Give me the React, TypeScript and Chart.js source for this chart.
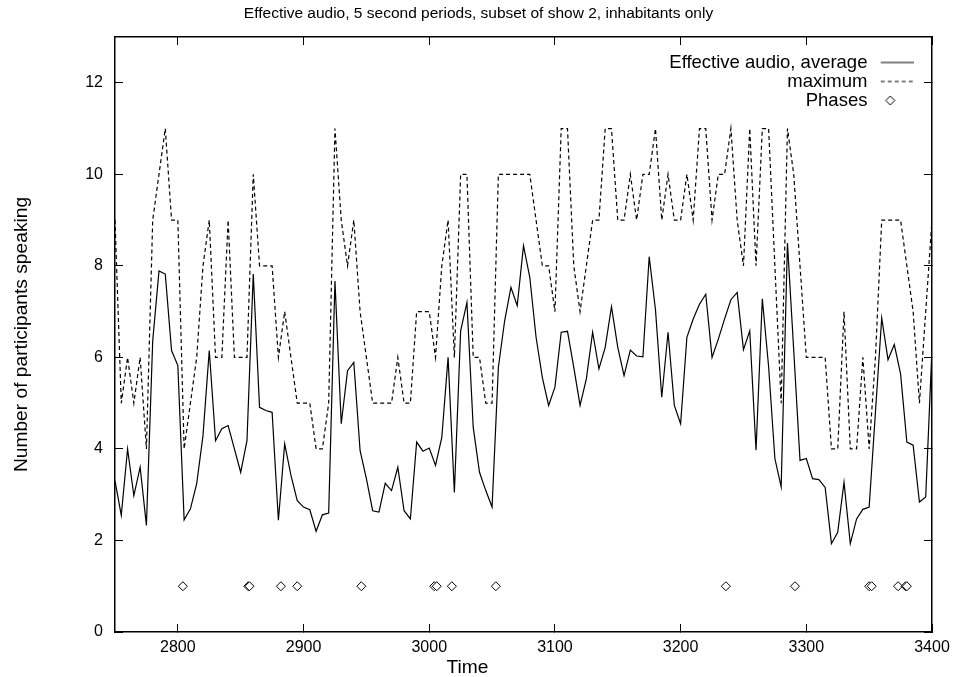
import React, { useEffect, useRef } from 'react';
import { Chart, registerables } from 'chart.js';

Chart.register(...registerables);

const FONT = "'Liberation Sans', Arial, Helvetica, sans-serif";

const TITLE = 'Effective audio, 5 second periods, subset of show 2, inhabitants only';
const X_TITLE = 'Time';
const Y_TITLE = 'Number of participants speaking';
const SERIES_NAMES = ['Effective audio, average', 'maximum', 'Phases'];

// 5 second periods starting at t = 2750
const START_TIME = 2750;
const PERIOD = 5;

const averageValues = [
  3.3, 2.55, 4.0, 2.98, 3.6, 2.33, 6.36, 7.89, 7.82, 6.15,
  5.82, 2.45, 2.69, 3.24, 4.29, 6.15, 4.18, 4.44, 4.51, 4.0,
  3.49, 4.18, 7.82, 4.91, 4.84, 4.8, 2.44, 4.11, 3.42, 2.87,
  2.73, 2.67, 2.2, 2.56, 2.6, 7.67, 4.55, 5.71, 5.89, 3.96,
  3.35, 2.65, 2.62, 3.25, 3.09, 3.6, 2.65, 2.47, 4.15, 3.95,
  4.02, 3.64, 4.25, 6.0, 3.05, 6.58, 7.2, 4.47, 3.49, 3.09,
  2.73, 5.78, 6.8, 7.53, 7.13, 8.44, 7.75, 6.44, 5.56, 4.95,
  5.35, 6.55, 6.57, 5.78, 4.95, 5.53, 6.55, 5.75, 6.22, 7.11,
  6.22, 5.6, 6.16, 6.03, 6.01, 8.2, 7.04, 5.13, 6.55, 4.95,
  4.55, 6.44, 6.84, 7.16, 7.38, 6.0, 6.4, 6.84, 7.26, 7.42,
  6.17, 6.58, 3.97, 7.28, 5.8, 3.79, 3.17, 8.5, 6.15, 3.75,
  3.79, 3.35, 3.33, 3.16, 1.93, 2.18, 3.27, 1.93, 2.47, 2.68,
  2.73, 4.8, 6.86, 5.95, 6.28, 5.64, 4.15, 4.08, 2.84, 2.95,
  6.2,
];

const maximumValues = [
  9, 5, 6, 5, 6, 4, 9, 10, 11, 9,
  9, 4, 5, 6, 8, 9, 6, 6, 9, 6,
  6, 6, 10, 8, 8, 8, 6, 7, 6, 5,
  5, 5, 4, 4, 5, 11, 9, 8, 9, 7,
  6, 5, 5, 5, 5, 6, 5, 5, 7, 7,
  7, 6, 8, 9, 6, 10, 10, 6, 6, 5,
  5, 10, 10, 10, 10, 10, 10, 9, 8, 8,
  7, 11, 11, 8, 7, 8, 9, 9, 11, 11,
  9, 9, 10, 9, 10, 10, 11, 9, 10, 9,
  9, 10, 9, 11, 11, 9, 10, 10, 11, 9,
  8, 11, 8, 11, 11, 8, 5, 11, 10, 8,
  6, 6, 6, 6, 4, 4, 7, 4, 4, 6,
  4, 6, 9, 9, 9, 9, 8, 7, 5, 7,
  9,
];

const phaseTimes = [
  2804, 2856, 2857, 2882, 2895, 2946, 3004, 3006, 3018, 3053,
  3236, 3291, 3350, 3352, 3373, 3379, 3380,
];
const PHASE_LEVEL = 1;

const xTickValues = [2800, 2900, 3000, 3100, 3200, 3300, 3400];
const yTickValues = [0, 2, 4, 6, 8, 10, 12];
const X_MIN = 2750;
const X_MAX = 3400;
const Y_MIN = 0;
const Y_MAX = 13;

const X_TITLE_SHIFT = -56;
const LEGEND_SAMPLE_W = 37;
const DASH = [4, 3];

const legendPlacer = {
  id: 'legendPlacer',
  afterLayout(chart: any) {
    const lg = chart.legend;
    const ca = chart.chartArea;
    if (lg) {
      const w = lg.width;
      const h = lg.height;
      lg.right = ca.right - 17.8;
      lg.left = lg.right - w;
      lg.top = ca.top + 15.7;
      lg.bottom = lg.top + h;
    }
    const xs = chart.scales.x;
    if (xs && !xs.__titleShifted) {
      const orig = xs.drawTitle.bind(xs);
      xs.drawTitle = function () {
        const ctx = this.ctx;
        ctx.save();
        ctx.translate(X_TITLE_SHIFT, 0);
        orig();
        ctx.restore();
      };
      xs.__titleShifted = true;
    }
  },
};

// legend samples: gap on the left, sample on the right (as in the original key)
function makeLineSample(dash: number[]): HTMLCanvasElement {
  const c = document.createElement('canvas');
  c.width = LEGEND_SAMPLE_W;
  c.height = 4;
  const g = c.getContext('2d')!;
  g.strokeStyle = '#000';
  g.lineWidth = 1.2;
  g.setLineDash(dash);
  g.beginPath();
  g.moveTo(4, 2);
  g.lineTo(LEGEND_SAMPLE_W, 2);
  g.stroke();
  return c;
}

function makeDiamondSample(): HTMLCanvasElement {
  const c = document.createElement('canvas');
  c.width = LEGEND_SAMPLE_W;
  c.height = 11;
  const g = c.getContext('2d')!;
  const cx = 13.5;
  g.beginPath();
  g.moveTo(cx, 1);
  g.lineTo(cx + 4.5, 5.5);
  g.lineTo(cx, 10);
  g.lineTo(cx - 4.5, 5.5);
  g.closePath();
  g.fillStyle = '#fff';
  g.fill();
  g.strokeStyle = '#000';
  g.lineWidth = 1;
  g.stroke();
  return c;
}

const zeroPad = (s: any) => {
  s.paddingLeft = 0;
  s.paddingRight = 0;
  s.paddingTop = 0;
  s.paddingBottom = 0;
};

export default function App() {
  const canvasRef = useRef<HTMLCanvasElement | null>(null);

  useEffect(() => {
    if (!canvasRef.current) return;
    const solidSample = makeLineSample([]);
    const dashedSample = makeLineSample(DASH);
    const diamondSample = makeDiamondSample();

    const avgData = averageValues.map((v, i) => ({ x: START_TIME + i * PERIOD, y: v }));
    const maxData = maximumValues.map((v, i) => ({ x: START_TIME + i * PERIOD, y: v }));
    const phaseData = phaseTimes.map((t) => ({ x: t, y: PHASE_LEVEL }));

    const gridOpts = {
      drawOnChartArea: false,
      drawTicks: true,
      tickLength: -8,
      color: '#000',
      lineWidth: 1,
    };
    const borderOpts = { display: true, color: '#000', width: 1.5 };
    const tickFont = { family: FONT, size: 16 };
    const axisTitleFont = { family: FONT, size: 19.2, lineHeight: 1 };

    const chart = new Chart(canvasRef.current, {
      type: 'line',
      data: {
        datasets: [
          {
            label: SERIES_NAMES[0],
            data: avgData,
            borderColor: '#000',
            backgroundColor: '#000',
            borderWidth: 1.2,
            pointRadius: 0,
            pointHitRadius: 0,
            pointStyle: 'line',
            tension: 0,
            fill: false,
            xAxisID: 'x',
            yAxisID: 'y',
          },
          {
            label: SERIES_NAMES[1],
            data: maxData,
            borderColor: '#000',
            backgroundColor: '#000',
            borderWidth: 1.2,
            borderDash: DASH,
            pointRadius: 0,
            pointHitRadius: 0,
            pointStyle: 'line',
            tension: 0,
            fill: false,
            xAxisID: 'x',
            yAxisID: 'y',
          },
          {
            label: SERIES_NAMES[2],
            data: phaseData,
            showLine: false,
            borderColor: '#000',
            backgroundColor: '#fff',
            pointStyle: 'rectRot',
            pointRadius: 4.5,
            pointBorderWidth: 1,
            pointBackgroundColor: '#fff',
            pointBorderColor: '#000',
            xAxisID: 'x',
            yAxisID: 'y',
          },
        ],
      },
      options: {
        responsive: false,
        animation: false,
        devicePixelRatio: 1,
        events: [],
        layout: { padding: 0 },
        scales: {
          x: {
            type: 'linear',
            position: 'bottom',
            min: X_MIN,
            max: X_MAX,
            afterBuildTicks: (s: any) => {
              s.ticks = xTickValues.map((v) => ({ value: v }));
            },
            afterFit: (s: any) => {
              s.height = 45;
              zeroPad(s);
            },
            ticks: {
              color: '#000',
              font: tickFont,
              padding: 14,
              maxRotation: 0,
              autoSkip: false,
              callback: (v: any) => String(v),
            },
            grid: gridOpts,
            border: borderOpts,
            title: {
              display: true,
              text: X_TITLE,
              color: '#000',
              font: axisTitleFont,
              padding: { top: 0, bottom: 0 },
            },
          },
          y: {
            type: 'linear',
            position: 'left',
            min: Y_MIN,
            max: Y_MAX,
            afterBuildTicks: (s: any) => {
              s.ticks = yTickValues.map((v) => ({ value: v }));
            },
            afterFit: (s: any) => {
              s.width = 115;
              zeroPad(s);
            },
            ticks: {
              color: '#000',
              font: tickFont,
              padding: 20,
              callback: (v: any) => String(v),
            },
            grid: gridOpts,
            border: borderOpts,
            title: {
              display: true,
              text: Y_TITLE,
              color: '#000',
              font: axisTitleFont,
              padding: { top: 12.4, bottom: 0 },
            },
          },
          x2: {
            type: 'linear',
            position: 'top',
            min: X_MIN,
            max: X_MAX,
            afterBuildTicks: (s: any) => {
              s.ticks = xTickValues.map((v) => ({ value: v }));
            },
            afterFit: (s: any) => {
              s.height = 0;
              zeroPad(s);
            },
            ticks: { display: false },
            grid: gridOpts,
            border: borderOpts,
          },
          y2: {
            type: 'linear',
            position: 'right',
            min: Y_MIN,
            max: Y_MAX,
            afterBuildTicks: (s: any) => {
              s.ticks = yTickValues.map((v) => ({ value: v }));
            },
            afterFit: (s: any) => {
              s.width = 25;
              zeroPad(s);
            },
            ticks: { display: false },
            grid: gridOpts,
            border: borderOpts,
          },
        },
        plugins: {
          tooltip: { enabled: false },
          title: {
            display: true,
            text: TITLE,
            color: '#000',
            font: { family: FONT, size: 15.5, weight: 'normal', lineHeight: 1.2 },
            padding: { top: 4, bottom: 14.4 },
          },
          legend: {
            display: true,
            position: 'chartArea',
            align: 'start',
            rtl: true,
            labels: {
              usePointStyle: true,
              pointStyleWidth: LEGEND_SAMPLE_W,
              color: '#000',
              font: { family: FONT, size: 18.5 },
              padding: 0.5,
              generateLabels: (ch: any) => {
                const items = Chart.defaults.plugins.legend.labels.generateLabels(ch);
                items.forEach((it: any) => {
                  const ds: any = ch.data.datasets[it.datasetIndex];
                  if (ds.showLine === false) {
                    it.pointStyle = diamondSample;
                  } else if (ds.borderDash && ds.borderDash.length) {
                    it.pointStyle = dashedSample;
                  } else {
                    it.pointStyle = solidSample;
                  }
                });
                return items;
              },
            },
          },
        },
      } as any,
      plugins: [legendPlacer],
    });

    return () => {
      chart.destroy();
    };
  }, []);

  return (
    <div style={{ position: 'absolute', left: 0, top: 0, width: 957, height: 677, background: '#fff' }}>
      <canvas ref={canvasRef} width={957} height={677} style={{ display: 'block' }} />
    </div>
  );
}
